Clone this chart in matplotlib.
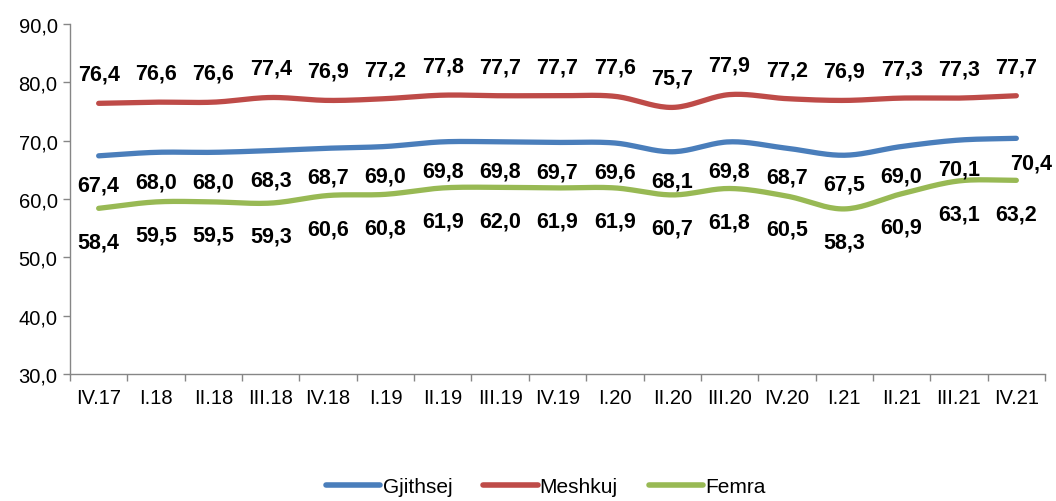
import matplotlib
matplotlib.use("Agg")
import matplotlib.pyplot as plt
import numpy as np
from matplotlib.lines import Line2D

categories = ["IV.17", "I.18", "II.18", "III.18", "IV.18", "I.19", "II.19", "III.19", "IV.19",
              "I.20", "II.20", "III.20", "IV.20", "I.21", "II.21", "III.21", "IV.21"]
gjithsej = [67.4, 68.0, 68.0, 68.3, 68.7, 69.0, 69.8, 69.8, 69.7, 69.6, 68.1, 69.8, 68.7, 67.5, 69.0, 70.1, 70.4]
meshkuj = [76.4, 76.6, 76.6, 77.4, 76.9, 77.2, 77.8, 77.7, 77.7, 77.6, 75.7, 77.9, 77.2, 76.9, 77.3, 77.3, 77.7]
femra = [58.4, 59.5, 59.5, 59.3, 60.6, 60.8, 61.9, 62.0, 61.9, 61.9, 60.7, 61.8, 60.5, 58.3, 60.9, 63.1, 63.2]
series_names = ["Gjithsej", "Meshkuj", "Femra"]
colors = ["#4A7EBB", "#BE4B48", "#98B954"]

plt.rcParams['font.family'] = ['Liberation Sans', 'DejaVu Sans']

fig = plt.figure(figsize=(10.56, 5.02), dpi=100)
ax = fig.add_axes([70/1056, 1-375/502, (1045-70)/1056, 350/502])

x = np.arange(len(categories))

def smooth(xs, ys, n=20):
    xs = np.asarray(xs, float); ys = np.asarray(ys, float)
    px = np.concatenate([[2*xs[0]-xs[1]], xs, [2*xs[-1]-xs[-2]]])
    py = np.concatenate([[2*ys[0]-ys[1]], ys, [2*ys[-1]-ys[-2]]])
    outx, outy = [], []
    for i in range(1, len(px)-2):
        t = np.linspace(0, 1, n, endpoint=False)
        for arr, out in ((px, outx), (py, outy)):
            p0, p1, p2, p3 = arr[i-1], arr[i], arr[i+1], arr[i+2]
            out.extend(0.5*((2*p1) + (-p0+p2)*t + (2*p0-5*p1+4*p2-p3)*t**2 + (-p0+3*p1-3*p2+p3)*t**3))
    outx.append(xs[-1]); outy.append(ys[-1])
    return np.array(outx), np.array(outy)

data = [gjithsej, meshkuj, femra]
for vals, c in zip(data, colors):
    sx, sy = smooth(x, vals)
    ax.plot(sx, sy, color=c, lw=3.8, solid_capstyle='round', zorder=3)

def fmt(v):
    return f"{v:.1f}".replace(".", ",")

lab_kw = dict(ha='center', va='center', fontsize=15.5, fontweight='bold', color='black',
              textcoords='offset points')
for i, v in enumerate(meshkuj):
    ax.annotate(fmt(v), (x[i], v), xytext=(0, 21), **lab_kw)
for i, v in enumerate(gjithsej):
    if i == len(gjithsej) - 1:
        ax.annotate(fmt(v), (x[i], v), xytext=(11, -18), **lab_kw)
    else:
        ax.annotate(fmt(v), (x[i], v), xytext=(0, -21), **lab_kw)
for i, v in enumerate(femra):
    ax.annotate(fmt(v), (x[i], v), xytext=(0, -24), **lab_kw)

ax.set_xlim(-0.5, len(categories) - 0.5)
ax.set_ylim(30, 90)
yt = np.arange(30, 91, 10)
ax.set_yticks(yt)
ax.set_yticklabels([fmt(v) for v in yt], fontsize=14.5)
ax.set_xticks(x)
ax.set_xticklabels(categories, fontsize=14.5)
ax.set_xticks(np.arange(-0.5, len(categories)), minor=True)
ax.tick_params(axis='x', which='major', length=0, pad=10)
ax.tick_params(axis='x', which='minor', length=5, color='#868686', width=1)
ax.tick_params(axis='y', length=5, color='#868686', width=1, pad=4)
for s in ['top', 'right']:
    ax.spines[s].set_visible(False)
for s in ['left', 'bottom']:
    ax.spines[s].set_color('#868686')
    ax.spines[s].set_linewidth(1)

handles = [Line2D([0], [0], color=c, lw=4, solid_capstyle='round') for c in colors]
fig.legend(handles, series_names, loc='lower center', bbox_to_anchor=(0.517, -0.028), ncol=3,
           frameon=False, fontsize=15, handlelength=2.6, handletextpad=0.1, columnspacing=1.5)

fig.savefig("out.png", dpi=100)
